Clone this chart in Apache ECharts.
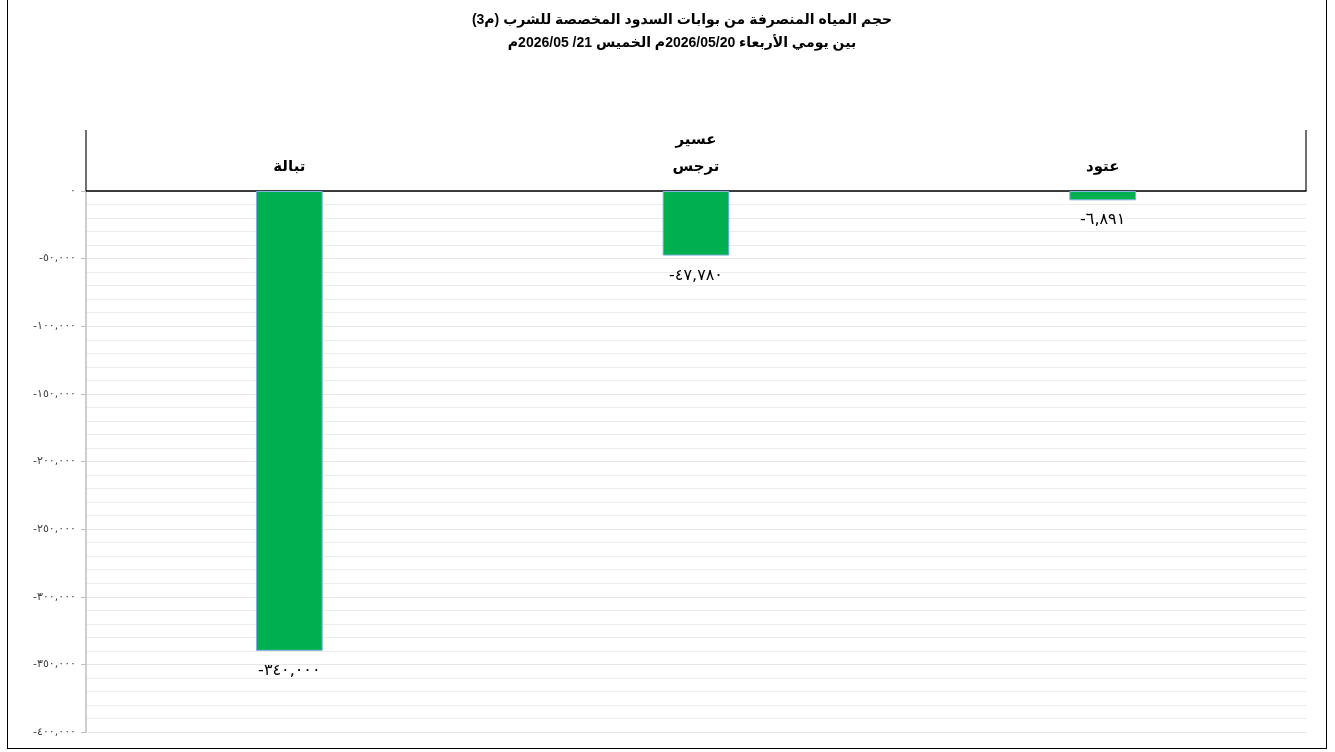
<!DOCTYPE html>
<html>
<head>
<meta charset="utf-8">
<script src="https://cdn.jsdelivr.net/npm/echarts@6/dist/echarts.min.js"></script>
<style>
  html, body { margin: 0; padding: 0; background: #fff; }
  #frame { position: absolute; left: 7px; top: -1px; width: 1318px; height: 748px; border: 1px solid #000; }
  #chart { position: absolute; left: 0; top: 0; width: 1335px; height: 752px; }
</style>
</head>
<body>
<div id="frame"></div>
<div id="chart"></div>
<script>
var titleLines = [
    'حجم المياه المنصرفة من بوابات السدود المخصصة للشرب (م3)',
    'بين يومي الأربعاء 2026/05/20م الخميس 21/ 2026/05م'
];
var categories = ['تبالة', 'عسير\nترجس', 'عتود'];
var values = [-340000, -47780, -6891];
var yMin = -400000;
var yMax = 0;
var yStep = 50000;

// western digits -> arabic-indic
function arabicNum(n) {
    var s = Math.abs(n).toLocaleString('en-US');
    s = s.replace(/[0-9]/g, function (d) { return String.fromCharCode(0x0660 + Number(d)); });
    return (n < 0 ? '-' : '') + s;
}

var chartDom = document.getElementById('chart');
var myChart = echarts.init(chartDom);
var RLE = '\u202B', PDF = '\u202C';

var option = {
    animation: false,
    title: {
        text: titleLines.map(function (t) { return RLE + t + PDF; }).join('\n'),
        left: 677,
        textAlign: 'center',
        top: 4,
        textStyle: {
            fontFamily: 'Arial, "DejaVu Sans", sans-serif',
            fontSize: 14,
            fontWeight: 'bold',
            color: '#000',
            lineHeight: 23
        }
    },
    grid: { left: 86, right: 29, top: 191, bottom: 20, containLabel: false },
    xAxis: {
        type: 'category',
        position: 'top',
        data: categories,
        axisLine: { lineStyle: { color: '#000', width: 1.5 } },
        axisTick: { show: false },
        axisLabel: {
            margin: 11,
            fontFamily: 'Arial, "DejaVu Sans", sans-serif',
            fontSize: 15,
            fontWeight: 'bold',
            color: '#000',
            lineHeight: 27
        }
    },
    yAxis: {
        type: 'value',
        min: yMin,
        max: yMax,
        interval: yStep,
        axisLine: { show: true, lineStyle: { color: '#bfbfbf', width: 1.5 } },
        axisTick: { show: true, length: 5, lineStyle: { color: '#bfbfbf' } },
        axisLabel: {
            margin: 10,
            fontFamily: '"DejaVu Sans", sans-serif',
            fontSize: 11,
            color: '#404040',
            formatter: function (v) { return arabicNum(v); }
        },
        splitLine: { show: true, lineStyle: { color: '#e6e6e6', width: 1 } },
        minorTick: { show: false, splitNumber: 5 },
        minorSplitLine: { show: true, lineStyle: { color: '#ececec', width: 1 } }
    },
    series: [{
        type: 'bar',
        data: values,
        barWidth: '16.4%',
        itemStyle: { color: '#00B050', borderColor: '#7fb3df', borderWidth: 1 },
        label: {
            show: true,
            position: 'bottom',
            distance: 12,
            fontFamily: '"DejaVu Sans", serif',
            fontSize: 16,
            color: '#000',
            formatter: function (p) { return arabicNum(p.value); }
        }
    }]
};

option && myChart.setOption(option);

// frame lines above the zero line, taken from the grid rect
var rect = myChart.getModel().getComponent('grid', 0).coordinateSystem.getRect();
var topY = 130;
myChart.setOption({
    graphic: [
        { type: 'line', shape: { x1: rect.x, y1: topY, x2: rect.x, y2: rect.y }, style: { stroke: '#404040', lineWidth: 1.5 } },
        { type: 'line', shape: { x1: rect.x + rect.width, y1: topY, x2: rect.x + rect.width, y2: rect.y }, style: { stroke: '#404040', lineWidth: 1.5 } }
    ]
});
</script>
</body>
</html>
